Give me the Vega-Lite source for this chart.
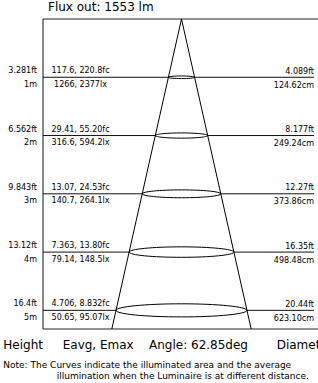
{
  "$schema": "https://vega.github.io/schema/vega-lite/v6.json",
  "width": 275,
  "height": 310,
  "autosize": {"type": "none"},
  "padding": {"left": 43, "top": 19, "right": 0, "bottom": 54},
  "config": {"view": {"stroke": null}, "font": "DejaVu Sans"},
  "datasets": {
    "levels": [
      {"m": 1, "m_label": "1m", "ft": "3.281ft", "fc": "117.6, 220.8fc", "lx": "1266, 2377lx", "d_ft": "4.089ft", "d_cm": 124.62, "cm_label": "124.62cm"},
      {"m": 2, "m_label": "2m", "ft": "6.562ft", "fc": "29.41, 55.20fc", "lx": "316.6, 594.2lx", "d_ft": "8.177ft", "d_cm": 249.24, "cm_label": "249.24cm"},
      {"m": 3, "m_label": "3m", "ft": "9.843ft", "fc": "13.07, 24.53fc", "lx": "140.7, 264.1lx", "d_ft": "12.27ft", "d_cm": 373.86, "cm_label": "373.86cm"},
      {"m": 4, "m_label": "4m", "ft": "13.12ft", "fc": "7.363, 13.80fc", "lx": "79.14, 148.5lx", "d_ft": "16.35ft", "d_cm": 498.48, "cm_label": "498.48cm"},
      {"m": 5, "m_label": "5m", "ft": "16.4ft", "fc": "4.706, 8.832fc", "lx": "50.65, 95.07lx", "d_ft": "20.44ft", "d_cm": 623.10, "cm_label": "623.10cm"}
    ],
    "cone": [
      {"edge": "left", "x": 0, "depth": 0},
      {"edge": "left", "x": -3.315, "depth": 5.32},
      {"edge": "right", "x": 0, "depth": 0},
      {"edge": "right", "x": 3.315, "depth": 5.32}
    ],
    "frame": [{"part": "box"}],
    "headers": [{"part": "headers"}]
  },
  "data": {"name": "levels"},
  "layer": [
    {
      "data": {"name": "frame"},
      "mark": {"type": "rule", "color": "#222", "strokeWidth": 1},
      "encoding": {
        "x": {"datum": -6.589, "type": "quantitative", "scale": {"domain": [-6.589, 6.494], "nice": false, "zero": false}, "axis": null},
        "x2": {"datum": 7.5},
        "y": {"datum": 0, "type": "quantitative", "scale": {"domain": [0, 5.32], "reverse": true, "nice": false, "zero": false}, "axis": null}
      }
    },
    {
      "data": {"name": "frame"},
      "mark": {"type": "rule", "color": "#222", "strokeWidth": 1},
      "encoding": {
        "x": {"datum": -6.589, "type": "quantitative"},
        "x2": {"datum": 7.5},
        "y": {"datum": 5.32, "type": "quantitative"}
      }
    },
    {
      "data": {"name": "frame"},
      "mark": {"type": "rule", "color": "#111", "strokeWidth": 1},
      "encoding": {
        "x": {"datum": -6.589, "type": "quantitative"},
        "y": {"datum": 0, "type": "quantitative"},
        "y2": {"datum": 5.32}
      }
    },
    {
      "mark": {"type": "rule", "color": "#111", "strokeWidth": 1},
      "encoding": {
        "x": {"datum": -6.589, "type": "quantitative"},
        "x2": {"datum": 6.303},
        "y": {"field": "m", "type": "quantitative"}
      }
    },
    {
      "mark": {"type": "point", "shape": "M-1,0A1,0.1,0,1,1,1,0A1,0.1,0,1,1,-1,0Z", "filled": true, "fill": "white", "stroke": "black", "strokeWidth": 1, "opacity": 1},
      "encoding": {
        "x": {"datum": 0, "type": "quantitative"},
        "y": {"field": "m", "type": "quantitative"},
        "size": {"field": "d_cm", "type": "quantitative", "scale": {"type": "pow", "exponent": 2, "domain": [0, 623.1], "range": [0, 17155]}, "legend": null}
      }
    },
    {
      "data": {"name": "cone"},
      "mark": {"type": "line", "color": "black", "strokeWidth": 1},
      "encoding": {
        "x": {"field": "x", "type": "quantitative"},
        "y": {"field": "depth", "type": "quantitative"},
        "detail": {"field": "edge"}
      }
    },
    {
      "mark": {"type": "text", "align": "right", "baseline": "alphabetic", "dy": -4, "fontSize": 8, "color": "black"},
      "encoding": {"x": {"datum": -6.874, "type": "quantitative"}, "y": {"field": "m", "type": "quantitative"}, "text": {"field": "ft"}}
    },
    {
      "mark": {"type": "text", "align": "right", "baseline": "alphabetic", "dy": 9.5, "fontSize": 8, "color": "black"},
      "encoding": {"x": {"datum": -6.874, "type": "quantitative"}, "y": {"field": "m", "type": "quantitative"}, "text": {"field": "m_label"}}
    },
    {
      "mark": {"type": "text", "align": "center", "baseline": "alphabetic", "dy": -4, "fontSize": 8, "color": "black"},
      "encoding": {"x": {"datum": -4.805, "type": "quantitative"}, "y": {"field": "m", "type": "quantitative"}, "text": {"field": "fc"}}
    },
    {
      "mark": {"type": "text", "align": "center", "baseline": "alphabetic", "dy": 9.5, "fontSize": 8, "color": "black"},
      "encoding": {"x": {"datum": -4.805, "type": "quantitative"}, "y": {"field": "m", "type": "quantitative"}, "text": {"field": "lx"}}
    },
    {
      "mark": {"type": "text", "align": "right", "baseline": "alphabetic", "dy": -3.5, "fontSize": 8, "color": "black"},
      "encoding": {"x": {"datum": 6.303, "type": "quantitative"}, "y": {"field": "m", "type": "quantitative"}, "text": {"field": "d_ft"}}
    },
    {
      "mark": {"type": "text", "align": "right", "baseline": "alphabetic", "dy": 10.5, "fontSize": 8, "color": "black"},
      "encoding": {"x": {"datum": 6.303, "type": "quantitative"}, "y": {"field": "m", "type": "quantitative"}, "text": {"field": "cm_label"}}
    },
    {
      "data": {"name": "headers"},
      "mark": {"type": "text", "align": "left", "baseline": "alphabetic", "fontSize": 12, "color": "black", "text": "Flux out: 1553 lm"},
      "encoding": {"x": {"datum": -6.351, "type": "quantitative"}, "y": {"datum": -0.137, "type": "quantitative"}}
    },
    {
      "data": {"name": "headers"},
      "mark": {"type": "text", "align": "left", "baseline": "alphabetic", "fontSize": 12, "color": "black", "text": "Height"},
      "encoding": {"x": {"datum": -8.478, "type": "quantitative"}, "y": {"datum": 5.663, "type": "quantitative"}}
    },
    {
      "data": {"name": "headers"},
      "mark": {"type": "text", "align": "left", "baseline": "alphabetic", "fontSize": 12, "color": "black", "text": "Eavg, Emax"},
      "encoding": {"x": {"datum": -5.652, "type": "quantitative"}, "y": {"datum": 5.663, "type": "quantitative"}}
    },
    {
      "data": {"name": "headers"},
      "mark": {"type": "text", "align": "left", "baseline": "alphabetic", "fontSize": 12, "color": "black", "text": "Angle: 62.85deg"},
      "encoding": {"x": {"datum": -1.546, "type": "quantitative"}, "y": {"datum": 5.663, "type": "quantitative"}}
    },
    {
      "data": {"name": "headers"},
      "mark": {"type": "text", "align": "left", "baseline": "alphabetic", "fontSize": 12, "color": "black", "text": "Diameter"},
      "encoding": {"x": {"datum": 4.529, "type": "quantitative"}, "y": {"datum": 5.663, "type": "quantitative"}}
    },
    {
      "data": {"name": "headers"},
      "mark": {"type": "text", "align": "left", "baseline": "alphabetic", "fontSize": 9, "color": "black", "text": "Note: The Curves indicate the illuminated area and the average"},
      "encoding": {"x": {"datum": -8.478, "type": "quantitative"}, "y": {"datum": 5.981, "type": "quantitative"}}
    },
    {
      "data": {"name": "headers"},
      "mark": {"type": "text", "align": "left", "baseline": "alphabetic", "fontSize": 9, "color": "black", "text": "illumination when the Luminaire is at different distance."},
      "encoding": {"x": {"datum": -5.937, "type": "quantitative"}, "y": {"datum": 6.178, "type": "quantitative"}}
    }
  ]
}
